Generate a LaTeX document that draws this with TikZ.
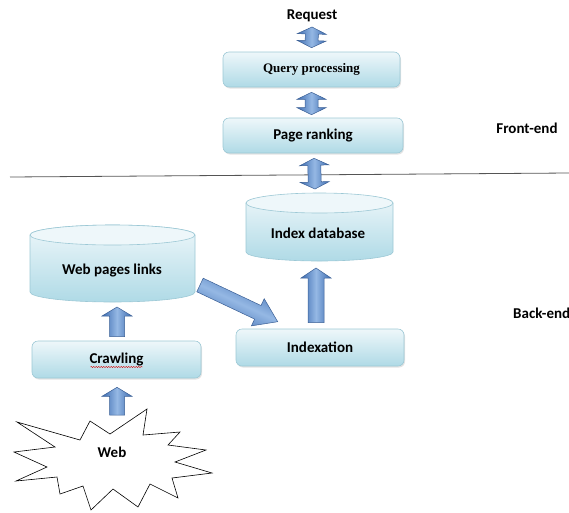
\documentclass[tikz,border=0pt]{standalone}
\usepackage{fontspec}
\setmainfont{Carlito}
\newfontfamily\tnr{Liberation Serif}
\usetikzlibrary{calc,shadows,decorations.pathmorphing}
\definecolor{boxtop}{HTML}{EEF7FA}
\definecolor{boxbot}{HTML}{AFDAE6}
\definecolor{boxline}{HTML}{9CC8D5}
\definecolor{arrdark}{HTML}{3C6BB0}
\definecolor{arrlight}{HTML}{95B8E4}
\definecolor{arrline}{HTML}{3A5F95}
\definecolor{sepline}{HTML}{555555}

\tikzset{
  lbl/.style={font=\fontsize{15}{17}\selectfont\bfseries, inner sep=0pt},
  procbox/.style={rounded corners=6pt, top color=boxtop, bottom color=boxbot,
    draw=boxline, line width=0.6pt,
    drop shadow={opacity=0.22, shadow xshift=1pt, shadow yshift=-1.5pt},
    font=\fontsize{15}{17}\selectfont\bfseries, inner sep=0pt},
  blockarrow/.style={left color=arrdark, right color=arrdark, middle color=arrlight,
    draw=arrline, line width=0.5pt, line join=miter},
  cylbody/.style={top color=boxtop, bottom color=boxbot, draw=boxline, line width=0.6pt},
  cyltop/.style={fill=boxtop, draw=boxline, line width=0.6pt},
}

% double block arrow between two points
\newcommand\dblarr[2]{%
  \coordinate (aP) at (#1);
  \coordinate (aQ) at (#2);
  \coordinate (bP) at ($(aP)!7pt!(aQ)$);
  \coordinate (bQ) at ($(aQ)!7pt!(aP)$);
  \shadedraw[blockarrow] (aP) -- ($(bP)!14.5pt!90:(aQ)$) -- ($(bP)!6.5pt!90:(aQ)$)
    -- ($(bQ)!6.5pt!-90:(aP)$) -- ($(bQ)!14.5pt!-90:(aP)$) -- (aQ)
    -- ($(bQ)!14.5pt!90:(aP)$) -- ($(bQ)!6.5pt!90:(aP)$)
    -- ($(bP)!6.5pt!-90:(aQ)$) -- ($(bP)!14.5pt!-90:(aQ)$) -- cycle;}

% single block arrow: from, to, shaft half width, head half width, head length, extra style
\newcommand\sarr[6]{%
  \coordinate (aP) at (#1);
  \coordinate (aQ) at (#2);
  \coordinate (bQ) at ($(aQ)!#5!(aP)$);
  \shadedraw[blockarrow,#6] ($(aP)!#3!90:(aQ)$) -- ($(bQ)!#3!-90:(aP)$)
    -- ($(bQ)!#4!-90:(aP)$) -- (aQ) -- ($(bQ)!#4!90:(aP)$)
    -- ($(bQ)!#3!90:(aP)$) -- ($(aP)!#3!-90:(aQ)$) -- cycle;}

\begin{document}
\begin{tikzpicture}[x=1pt,y=-1pt]
\useasboundingbox (0,0) rectangle (569,512);

% separator
\draw[sepline, line width=0.8pt] (10,177) -- (569,173);

% labels
\node[lbl] (req) at (312,16) {Request};
\node[lbl] (front) at (527,128) {Front-end};
\node[lbl, anchor=west] (back) at (513,313) {Back-end};

% front-end boxes
\node[procbox, minimum width=177pt, minimum height=35pt] (qp) at (311.5,69.5)
  {\tnr\fontsize{13}{15}\selectfont\bfseries Query processing};
\node[procbox, minimum width=180pt, minimum height=35pt] (pr) at (313,135.5) {Page ranking};

% back-end boxes
\node[procbox, minimum width=169pt, minimum height=37pt] (crawl) at (116.5,359.5) {Crawling};
\node[procbox, minimum width=168pt, minimum height=37pt] (ix) at (320,347.5) {Indexation};

% cylinder: Web pages links
\node[lbl] (wpl) at (112,270) {};
\coordinate (wplT) at ($(wpl)+(0.5,-35)$);
\coordinate (wplB) at ($(wpl)+(0.5,22)$);
\path[cylbody] ($(wplT)+(-82.5,0)$) -- ($(wplB)+(-82.5,0)$)
  arc[start angle=180, end angle=360, x radius=82.5pt, y radius=10pt]
  -- ($(wplT)+(82.5,0)$)
  arc[start angle=0, end angle=180, x radius=82.5pt, y radius=10pt] -- cycle;
\path[cyltop] (wplT) ellipse[x radius=82.5pt, y radius=10pt];
\node[lbl] at (wpl) {Web pages links};

% cylinder: Index database
\node[lbl] (idx) at (318,233) {};
\coordinate (idxT) at ($(idx)+(1.5,-30)$);
\coordinate (idxB) at ($(idx)+(1.5,19)$);
\path[cylbody] ($(idxT)+(-73.5,0)$) -- ($(idxB)+(-73.5,0)$)
  arc[start angle=180, end angle=360, x radius=73.5pt, y radius=9pt]
  -- ($(idxT)+(73.5,0)$)
  arc[start angle=0, end angle=180, x radius=73.5pt, y radius=9pt] -- cycle;
\path[cyltop] (idxT) ellipse[x radius=73.5pt, y radius=10pt];
\node[lbl] at (idx) {Index database};

% web starburst
\draw[black, line width=0.6pt, fill=white, line join=miter]
  (147,409) -- (143,435) -- (180,432) -- (168,445) -- (206,450) -- (175,462)
  -- (212,473) -- (172,478) -- (178,498) -- (150,484) -- (138,507) -- (113,489)
  -- (91,510) -- (83,486) -- (60,494) -- (57,477) -- (16,481) -- (47,467)
  -- (14,452) -- (55,447) -- (17,422) -- (80,440) -- (90,421) -- (110,434) -- cycle;
\node[lbl] (web) at (112,452) {Web};

% spell-check underline
\draw[red!85!black, line width=0.4pt, decorate,
  decoration={snake, amplitude=0.6pt, segment length=2.5pt}]
  ($(crawl.center)+(-26,7.5)$) -- ($(crawl.center)+(26,7.5)$);

% front-end arrows
\dblarr{$(req.center)+(0,11)$}{$(qp.north)+(0,-4)$}
\dblarr{$(qp.south)+(0,5)$}{$(pr.north)+(-1.5,-3)$}
\dblarr{$(pr.south)+(1,5)$}{$(idxT)+(-4.5,-14)$}

% back-end arrows
\sarr{$(ix.north)+(-4,-6)$}{$(idxB)+(-3.5,16)$}{8pt}{15pt}{10pt}{}
\sarr{$(crawl.north)+(0.5,-4)$}{$(wplB)+(4.5,15)$}{7.5pt}{15pt}{9pt}{}
\sarr{$(web.center)+(5,-37)$}{$(crawl.south)+(0.5,9)$}{7.5pt}{15pt}{9pt}{}
\sarr{$(wpl)+(88,15)$}{$(ix.north west)+(42,-7)$}{7.5pt}{15pt}{22pt}{shading angle=-25}
\end{tikzpicture}
\end{document}
